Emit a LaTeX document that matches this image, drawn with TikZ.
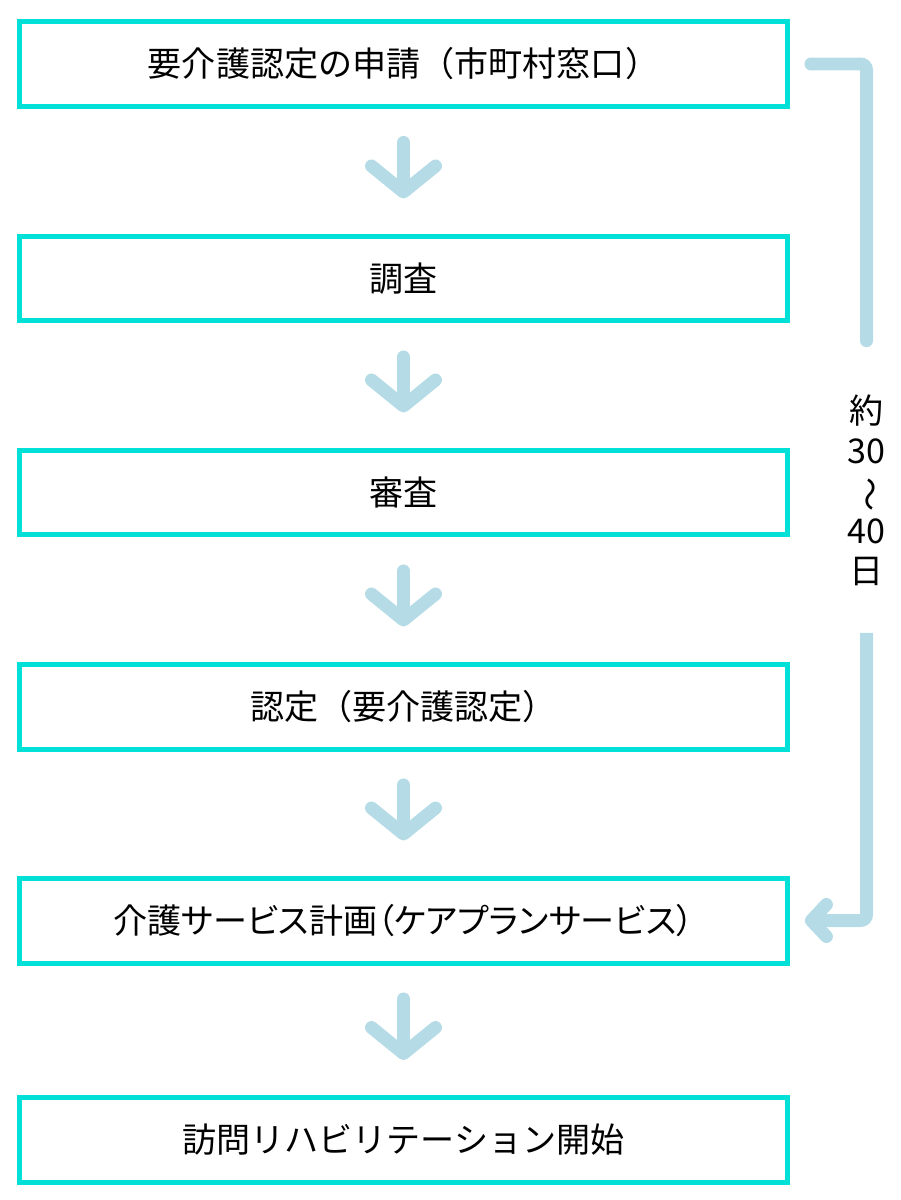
\documentclass[tikz,border=0pt]{standalone}
\usepackage{fontspec}
\usepackage{graphicx}
\setmainfont{Noto Sans CJK JP}
\usetikzlibrary{arrows.meta}
\definecolor{boxcyan}{RGB}{0,224,214}
\definecolor{arrowblue}{RGB}{181,220,230}

\begin{document}
\begin{tikzpicture}[x=0.02cm,y=-0.02cm,
  stepbox/.style={draw=boxcyan,line width=0.1cm,minimum width=15.36cm,minimum height=1.7cm,inner sep=0pt},
  flow/.style={draw=arrowblue,line width=0.26cm,line cap=round,
    -{Straight Barb[round,length=0.52cm,width=1.28cm]},shorten <=0.67cm,shorten >=0.7cm},
  span/.style={draw=arrowblue,line width=0.26cm,rounded corners=0.12cm},
  every node/.style={font=\fontsize{19.4pt}{22.8pt}\selectfont}]
 \useasboundingbox (0,0) rectangle (900,1200);
 \node[stepbox] (apply)  at (403.5,64)    {要介護認定の申請（市町村窓口）};
 \node[stepbox] (survey) at (403.5,278.5) {調査};
 \node[stepbox] (review) at (403.5,492.5) {審査};
 \node[stepbox] (cert)   at (403.5,706.5) {認定（要介護認定）};
 \node[stepbox] (plan)   at (403.5,920.5) {\addfontfeatures{RawFeature=+palt}介護サービス計画（ケアプランサービス）};
 \node[stepbox] (start)  at (403.5,1140)  {訪問リハビリテーション開始};
 \node[align=center,minimum height=5.7cm,inner sep=0pt] (days) at (866.5,490)
   {約\\30\\\rotatebox[origin=c]{-90}{〜}\\40\\日};
 \draw[flow] (apply) -- (survey);
 \draw[flow] (survey) -- (review);
 \draw[flow] (review) -- (cert);
 \draw[flow] (cert) -- (plan);
 \draw[flow] (plan) -- (start);
 \draw[span,line cap=round,shorten >=0.13cm] ([xshift=0.42cm]apply.east) -| (days.north);
 \draw[span,-{Straight Barb[round,length=0.3cm,width=0.64cm]}] (days.south) |- ([xshift=0.3cm]plan.east);
\end{tikzpicture}
\end{document}
